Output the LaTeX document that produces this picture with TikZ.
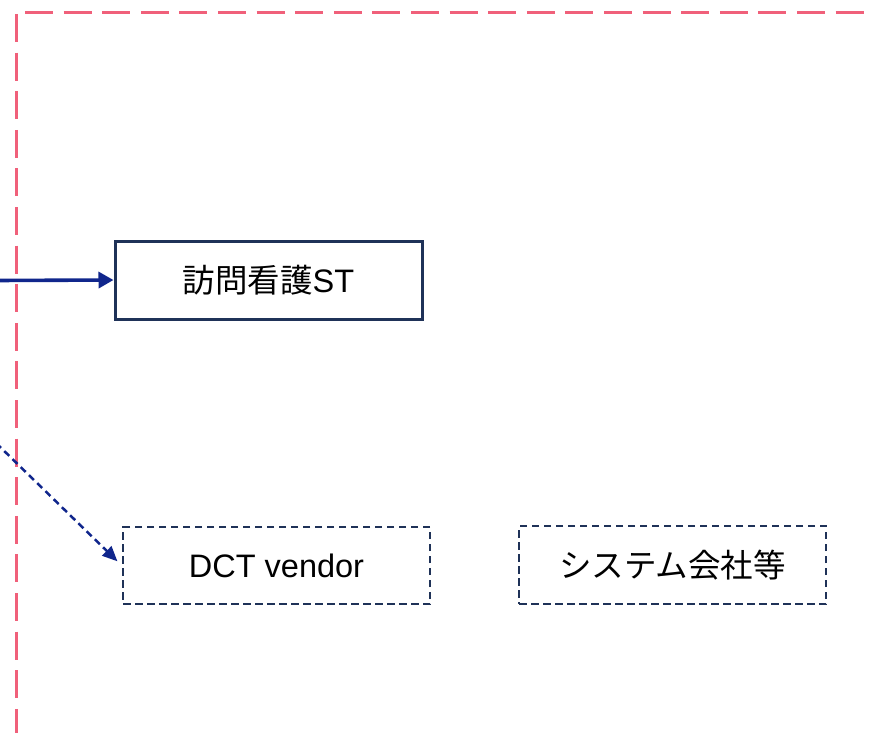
\documentclass[tikz,border=0pt]{standalone}
\usepackage{fontspec}
\setmainfont{Liberation Sans}
\newfontfamily\jp{Noto Sans CJK JP}
\usetikzlibrary{arrows.meta}
\definecolor{framepink}{RGB}{240,96,122}
\definecolor{boxnavy}{RGB}{31,50,88}
\definecolor{arrowblue}{RGB}{16,38,140}
\tikzset{
  entity/.style={draw=boxnavy, line width=3pt, minimum width=307pt, minimum height=78pt, inner sep=0pt, font=\fontsize{32.5pt}{36pt}\selectfont, text=black},
  dashedentity/.style={entity, line width=2.5pt, dash pattern=on 7.5pt off 4.5pt},
  frameline/.style={draw=framepink, line width=3.5pt, dash pattern=on 28pt off 10.6pt},
  solidarrow/.style={draw=arrowblue, line width=3.6pt, -{Triangle[length=15pt,width=16pt]}},
  dashedarrow/.style={draw=arrowblue, line width=2.5pt, dash pattern=on 7pt off 4.5pt, -{Triangle[length=15pt,width=13pt]}, shorten >=6pt}
}
\begin{document}
\begin{tikzpicture}[x=1pt,y=-1pt]
\useasboundingbox (0,0) rectangle (872,732);
% frame
\coordinate (fv1) at (16.5,14);
\coordinate (fv2) at (16.5,740);
\coordinate (fh1) at (25,12.5);
\coordinate (fh2) at (880,12.5);
\draw[frameline] (fv1) -- (fv2);
\draw[frameline] (fh1) -- (fh2);
% nodes
\node[entity] (st) at (268.5,280) {{\jp 訪問看護}ST};
\node[dashedentity, minimum height=77pt] (dct) at (276.5,565.5) {DCT vendor};
\node[dashedentity] (sys) at (672.5,565) {\jp システム会社等};
% connectors
\coordinate (a1) at (-5,280.5);
\draw[solidarrow] (a1) -- (st.west);
\coordinate (a2) at (-4,443);
\draw[dashedarrow] (a2) -- (dct.west);
\end{tikzpicture}
\end{document}
